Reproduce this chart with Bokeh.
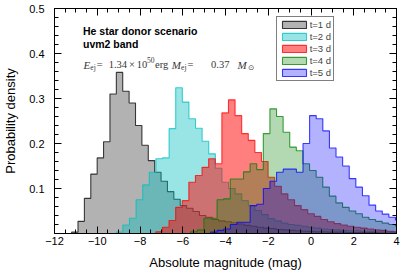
import numpy as np
from bokeh.plotting import figure
from bokeh.models import Range1d, LinearAxis, FixedTicker, Legend, LegendItem, Label
from bokeh.embed import file_html
from bokeh.resources import INLINE

# ---------------- data ----------------
series_labels = ["t=1 d", "t=2 d", "t=3 d", "t=4 d", "t=5 d"]
bin_start = [-11.20, -9.11, -7.26, -5.63, -4.70]     # left edge of first bin (mag)
bin_width = [0.299, 0.309, 0.309, 0.309, 0.309]     # bin width (mag)

density_t1 = [0.003, 0.027, 0.078, 0.132, 0.168, 0.204, 0.310, 0.358, 0.316, 0.290,
              0.240, 0.196, 0.162, 0.136, 0.116, 0.093, 0.076, 0.062, 0.056, 0.049,
              0.040, 0.036, 0.031, 0.028, 0.026, 0.024, 0.021, 0.018, 0.016, 0.014,
              0.012, 0.011, 0.009, 0.008, 0.007, 0.006, 0.005, 0.005, 0.004, 0.004,
              0.003, 0.003, 0.003, 0.002, 0.002, 0.002, 0.002, 0.002, 0.001, 0.001,
              0.001, 0.001]
density_t2 = [0.003, 0.019, 0.034, 0.075, 0.108, 0.136, 0.166, 0.168, 0.233, 0.324,
              0.292, 0.255, 0.234, 0.205, 0.177, 0.145, 0.114, 0.100, 0.088, 0.073,
              0.062, 0.051, 0.042, 0.033, 0.028, 0.023, 0.020, 0.018, 0.016, 0.014,
              0.012, 0.010, 0.009, 0.008, 0.007, 0.006, 0.006, 0.005, 0.005, 0.004,
              0.004, 0.004, 0.003]
density_t3 = [0.004, 0.014, 0.029, 0.058, 0.073, 0.114, 0.129, 0.147, 0.166, 0.155,
              0.268, 0.297, 0.262, 0.222, 0.207, 0.180, 0.160, 0.125, 0.105, 0.088,
              0.075, 0.062, 0.053, 0.044, 0.038, 0.031, 0.026, 0.022, 0.019, 0.016,
              0.014, 0.012, 0.010, 0.008, 0.007, 0.005, 0.004]
density_t4 = [0.004, 0.008, 0.034, 0.034, 0.075, 0.077, 0.121, 0.121, 0.137, 0.155,
              0.142, 0.222, 0.277, 0.260, 0.225, 0.192, 0.184, 0.155, 0.140, 0.125,
              0.103, 0.083, 0.068, 0.058, 0.050, 0.044, 0.036, 0.031, 0.027, 0.023,
              0.020, 0.017]
density_t5 = [0.003, 0.007, 0.010, 0.020, 0.025, 0.025, 0.062, 0.065, 0.100, 0.116,
              0.136, 0.143, 0.143, 0.136, 0.200, 0.262, 0.255, 0.228, 0.190, 0.170,
              0.150, 0.122, 0.103, 0.084, 0.063, 0.050, 0.043, 0.036, 0.030]
densities = [density_t1, density_t2, density_t3, density_t4, density_t5]

x_ticks = [-12, -10, -8, -6, -4, -2, 0, 2, 4]
x_tick_labels = ["\u221212", "\u221210", "\u22128", "\u22126", "\u22124", "\u22122", "0", "2", "4"]
y_ticks = [0.1, 0.2, 0.3, 0.4, 0.5]
y_tick_labels = ["0.1", "0.2", "0.3", "0.4", "0.5"]

# ---------------- styles ----------------
line_colors = ["black", "#00bfbf", "red", "green", "blue"]
fill_alphas = [0.3, 0.4, 0.5, 0.3, 0.3]

W, H = 408, 274
p = figure(width=W, height=H, x_range=Range1d(-12, 4), y_range=Range1d(0, 0.5),
           output_backend="svg", toolbar_location=None,
           min_border_left=51, min_border_right=12, min_border_top=8, min_border_bottom=41)
p.xgrid.visible = False
p.ygrid.visible = False
p.outline_line_color = None
p.background_fill_color = "white"
p.border_fill_color = "white"

renderers = []
for x0, w, dens, lc, fa in zip(bin_start, bin_width, densities, line_colors, fill_alphas):
    edges = x0 + w * np.arange(len(dens) + 1)
    xs, ys = [edges[0]], [0.0]
    for i, h in enumerate(dens):
        xs += [edges[i], edges[i + 1]]
        ys += [h, h]
    xs.append(edges[-1])
    ys.append(0.0)
    r = p.patch(xs, ys, fill_color=lc, fill_alpha=fa,
                line_color=lc, line_alpha=0.75, line_width=1.1)
    renderers.append(r)

xt = FixedTicker(ticks=x_ticks, minor_ticks=[float(v) for v in np.arange(-12, 4.01, 0.5)])
yt = FixedTicker(ticks=y_ticks, minor_ticks=[round(float(v), 3) for v in np.arange(0, 0.501, 0.02)])

def style_axis(ax):
    ax.axis_line_color = "black"
    ax.axis_line_width = 1
    ax.major_tick_in = 7
    ax.major_tick_out = 0
    ax.minor_tick_in = 4
    ax.minor_tick_out = 0
    ax.major_tick_line_color = "black"
    ax.minor_tick_line_color = "black"
    ax.major_label_text_font = "Liberation Sans"
    ax.major_label_text_font_size = "11px"
    ax.major_label_text_color = "black"
    ax.axis_label_text_font = "Liberation Sans"
    ax.axis_label_text_font_size = "13px"
    ax.axis_label_text_font_style = "normal"
    ax.axis_label_text_color = "black"

xa = p.xaxis[0]
xa.ticker = xt
style_axis(xa)
xa.major_label_standoff = 3
xa.major_label_overrides = {t: s for t, s in zip(x_ticks, x_tick_labels)}
xa.axis_label = "Absolute magnitude (mag)"
xa.axis_label_standoff = 7

ya = p.yaxis[0]
ya.ticker = yt
style_axis(ya)
ya.major_label_standoff = 10
ya.major_label_overrides = {t: s for t, s in zip(y_ticks, y_tick_labels)}
ya.axis_label = "Probability density"
ya.axis_label_standoff = 8

for side, tk in (("above", xt), ("right", yt)):
    ax = LinearAxis(ticker=tk)
    style_axis(ax)
    ax.major_label_text_font_size = "1px"
    ax.major_label_text_color = None
    ax.major_label_text_alpha = 0
    ax.major_label_standoff = 0
    p.add_layout(ax, side)

# frame: left edge at screen x=51, bottom edge at screen y=233
def add_text(txt, px, py, size, style="normal", font="Liberation Serif", color="#383838"):
    p.add_layout(Label(x=px - 51, y=233 - py, x_units="screen", y_units="screen",
                       text=txt, text_font=font, text_font_size=size,
                       text_font_style=style, text_color=color, text_align="left",
                       text_baseline="alphabetic"))

add_text("He star donor scenario", 79.5, 30.7, "10.5px", "bold", "Liberation Sans", "black")
add_text("uvm2 band", 79.5, 43.5, "10.5px", "bold", "Liberation Sans", "black")

mrow = 64.3
add_text("E", 80, mrow, "11px", "italic")
add_text("ej", 86.8, mrow + 2.3, "7.5px")
add_text("=", 93.3, mrow, "10.5px")
add_text("1.34", 105.2, mrow, "10.5px")
add_text("\u00d7", 125.5, mrow, "10.5px")
add_text("10", 133.2, mrow, "10.5px")
add_text("50", 143.6, mrow - 4.4, "7.5px")
add_text("erg", 151.5, mrow, "10.5px")
add_text("M", 168.3, mrow, "11px", "italic")
add_text("ej", 177.6, mrow + 2.3, "7.5px")
add_text("=", 184, mrow, "10.5px")
add_text("0.37", 207.5, mrow, "10.5px")
add_text("M", 234, mrow, "11px", "italic")
add_text("\u2299", 244.5, mrow + 2.3, "7.5px", "normal", "DejaVu Sans")

legend = Legend(items=[LegendItem(label=l, renderers=[r]) for l, r in zip(series_labels, renderers)],
                location=(221.7, 152))
legend.margin = 0
legend.padding = 2
legend.spacing = 1
legend.glyph_width = 30
legend.glyph_height = 9
legend.label_height = 9
legend.label_standoff = 1
legend.label_text_font = "Liberation Sans"
legend.label_text_font_size = "9.5px"
legend.border_line_color = "black"
legend.border_line_width = 1
legend.background_fill_color = "white"
legend.background_fill_alpha = 1.0
p.add_layout(legend, "center")

open("out.html", "w").write(file_html(p, INLINE))
